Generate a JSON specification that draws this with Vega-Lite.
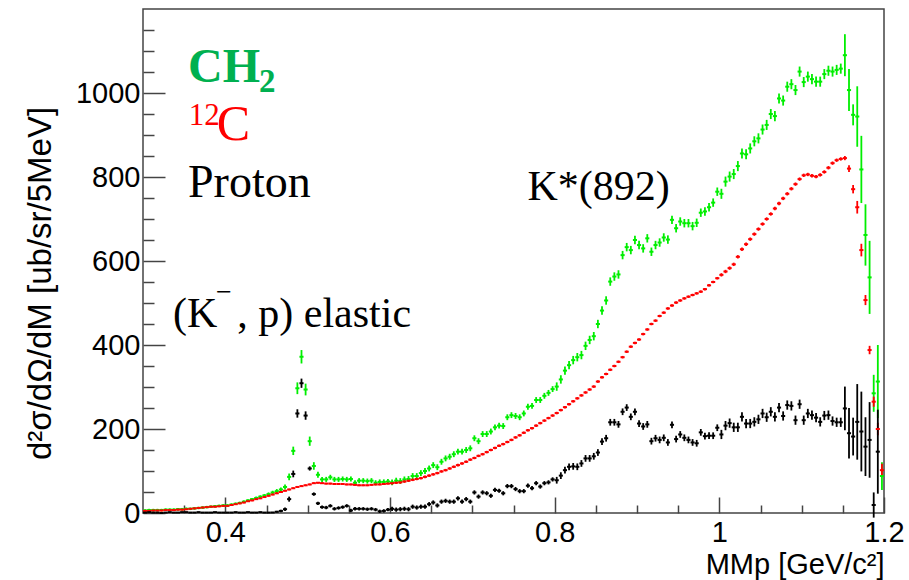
{
"$schema": "https://vega.github.io/schema/vega-lite/v6.json",
"width": 741, "height": 504,
"autosize": {"type": "none"},
"padding": {"left": 143, "top": 9, "right": 25, "bottom": 67},
"background": "white",
"config": {"view": {"stroke": "#444", "strokeWidth": 1.5}, "font": "Liberation Sans"},
"datasets": {"pts": [
{"s":"CH2","x":0.3025,"y":6,"e":3},{"s":"CH2","x":0.3075,"y":7,"e":3},{"s":"CH2","x":0.3125,"y":7,"e":3},{"s":"CH2","x":0.3175,"y":7,"e":3},{"s":"CH2","x":0.3225,"y":7,"e":3},{"s":"CH2","x":0.3275,"y":8,"e":3},{"s":"CH2","x":0.3325,"y":8,"e":3},{"s":"CH2","x":0.3375,"y":8,"e":3},{"s":"CH2","x":0.3425,"y":9,"e":3},{"s":"CH2","x":0.3475,"y":9,"e":3},
{"s":"CH2","x":0.3525,"y":10,"e":3},{"s":"CH2","x":0.3575,"y":10,"e":3},{"s":"CH2","x":0.3625,"y":11,"e":3},{"s":"CH2","x":0.3675,"y":12,"e":3},{"s":"CH2","x":0.3725,"y":13,"e":3},{"s":"CH2","x":0.3775,"y":14,"e":3},{"s":"CH2","x":0.3825,"y":15,"e":3},{"s":"CH2","x":0.3875,"y":16,"e":3},{"s":"CH2","x":0.3925,"y":17,"e":3},{"s":"CH2","x":0.3975,"y":18,"e":3},
{"s":"CH2","x":0.4025,"y":18,"e":3},{"s":"CH2","x":0.4075,"y":20,"e":3},{"s":"CH2","x":0.4125,"y":22,"e":3},{"s":"CH2","x":0.4175,"y":24,"e":3},{"s":"CH2","x":0.4225,"y":27,"e":3},{"s":"CH2","x":0.4275,"y":30,"e":3},{"s":"CH2","x":0.4325,"y":33,"e":3},{"s":"CH2","x":0.4375,"y":36,"e":3},{"s":"CH2","x":0.4425,"y":39,"e":3},{"s":"CH2","x":0.4475,"y":42,"e":3},
{"s":"CH2","x":0.4525,"y":45,"e":4},{"s":"CH2","x":0.4575,"y":49,"e":4},{"s":"CH2","x":0.4625,"y":52,"e":5},{"s":"CH2","x":0.4675,"y":56,"e":5},{"s":"CH2","x":0.4725,"y":62,"e":6},{"s":"CH2","x":0.4775,"y":86,"e":8},{"s":"CH2","x":0.4825,"y":148,"e":10},{"s":"CH2","x":0.4875,"y":297,"e":14},{"s":"CH2","x":0.4925,"y":372,"e":16},{"s":"CH2","x":0.4975,"y":294,"e":14},
{"s":"CH2","x":0.5025,"y":171,"e":11},{"s":"CH2","x":0.5075,"y":112,"e":9},{"s":"CH2","x":0.5125,"y":91,"e":7},{"s":"CH2","x":0.5175,"y":80,"e":6},{"s":"CH2","x":0.5225,"y":80,"e":6},{"s":"CH2","x":0.5275,"y":85,"e":6},{"s":"CH2","x":0.5325,"y":80,"e":6},{"s":"CH2","x":0.5375,"y":80,"e":6},{"s":"CH2","x":0.5425,"y":81,"e":6},{"s":"CH2","x":0.5475,"y":80,"e":6},
{"s":"CH2","x":0.5525,"y":81,"e":6},{"s":"CH2","x":0.5575,"y":72,"e":6},{"s":"CH2","x":0.5625,"y":77,"e":6},{"s":"CH2","x":0.5675,"y":77,"e":6},{"s":"CH2","x":0.5725,"y":76,"e":6},{"s":"CH2","x":0.5775,"y":77,"e":6},{"s":"CH2","x":0.5825,"y":72,"e":6},{"s":"CH2","x":0.5875,"y":74,"e":6},{"s":"CH2","x":0.5925,"y":74,"e":6},{"s":"CH2","x":0.5975,"y":75,"e":6},
{"s":"CH2","x":0.6025,"y":73,"e":7},{"s":"CH2","x":0.6075,"y":77,"e":7},{"s":"CH2","x":0.6125,"y":76,"e":7},{"s":"CH2","x":0.6175,"y":80,"e":7},{"s":"CH2","x":0.6225,"y":81,"e":7},{"s":"CH2","x":0.6275,"y":88,"e":7},{"s":"CH2","x":0.6325,"y":88,"e":7},{"s":"CH2","x":0.6375,"y":95,"e":7},{"s":"CH2","x":0.6425,"y":100,"e":7},{"s":"CH2","x":0.6475,"y":106,"e":7},
{"s":"CH2","x":0.6525,"y":114,"e":7},{"s":"CH2","x":0.6575,"y":109,"e":7},{"s":"CH2","x":0.6625,"y":122,"e":7},{"s":"CH2","x":0.6675,"y":130,"e":7},{"s":"CH2","x":0.6725,"y":134,"e":7},{"s":"CH2","x":0.6775,"y":140,"e":7},{"s":"CH2","x":0.6825,"y":146,"e":7},{"s":"CH2","x":0.6875,"y":146,"e":7},{"s":"CH2","x":0.6925,"y":150,"e":7},{"s":"CH2","x":0.6975,"y":154,"e":7},
{"s":"CH2","x":0.7025,"y":178,"e":7},{"s":"CH2","x":0.7075,"y":171,"e":7},{"s":"CH2","x":0.7125,"y":188,"e":7},{"s":"CH2","x":0.7175,"y":188,"e":7},{"s":"CH2","x":0.7225,"y":194,"e":7},{"s":"CH2","x":0.7275,"y":204,"e":7},{"s":"CH2","x":0.7325,"y":208,"e":7},{"s":"CH2","x":0.7375,"y":207,"e":7},{"s":"CH2","x":0.7425,"y":228,"e":7},{"s":"CH2","x":0.7475,"y":233,"e":7},
{"s":"CH2","x":0.7525,"y":231,"e":7},{"s":"CH2","x":0.7575,"y":228,"e":7},{"s":"CH2","x":0.7625,"y":237,"e":7},{"s":"CH2","x":0.7675,"y":253,"e":7},{"s":"CH2","x":0.7725,"y":255,"e":7},{"s":"CH2","x":0.7775,"y":269,"e":7},{"s":"CH2","x":0.7825,"y":269,"e":7},{"s":"CH2","x":0.7875,"y":279,"e":7},{"s":"CH2","x":0.7925,"y":286,"e":7},{"s":"CH2","x":0.7975,"y":295,"e":7},
{"s":"CH2","x":0.8025,"y":301,"e":10},{"s":"CH2","x":0.8075,"y":318,"e":10},{"s":"CH2","x":0.8125,"y":339,"e":10},{"s":"CH2","x":0.8175,"y":352,"e":10},{"s":"CH2","x":0.8225,"y":364,"e":10},{"s":"CH2","x":0.8275,"y":371,"e":10},{"s":"CH2","x":0.8325,"y":376,"e":10},{"s":"CH2","x":0.8375,"y":398,"e":10},{"s":"CH2","x":0.8425,"y":412,"e":10},{"s":"CH2","x":0.8475,"y":421,"e":10},
{"s":"CH2","x":0.8525,"y":450,"e":10},{"s":"CH2","x":0.8575,"y":482,"e":10},{"s":"CH2","x":0.8625,"y":506,"e":10},{"s":"CH2","x":0.8675,"y":551,"e":10},{"s":"CH2","x":0.8725,"y":563,"e":10},{"s":"CH2","x":0.8775,"y":568,"e":10},{"s":"CH2","x":0.8825,"y":614,"e":10},{"s":"CH2","x":0.8875,"y":633,"e":10},{"s":"CH2","x":0.8925,"y":626,"e":10},{"s":"CH2","x":0.8975,"y":650,"e":10},
{"s":"CH2","x":0.9025,"y":638,"e":10},{"s":"CH2","x":0.9075,"y":630,"e":10},{"s":"CH2","x":0.9125,"y":654,"e":10},{"s":"CH2","x":0.9175,"y":622,"e":10},{"s":"CH2","x":0.9225,"y":638,"e":10},{"s":"CH2","x":0.9275,"y":644,"e":10},{"s":"CH2","x":0.9325,"y":656,"e":10},{"s":"CH2","x":0.9375,"y":651,"e":10},{"s":"CH2","x":0.9425,"y":698,"e":10},{"s":"CH2","x":0.9475,"y":678,"e":10},
{"s":"CH2","x":0.9525,"y":694,"e":10},{"s":"CH2","x":0.9575,"y":690,"e":10},{"s":"CH2","x":0.9625,"y":690,"e":10},{"s":"CH2","x":0.9675,"y":683,"e":10},{"s":"CH2","x":0.9725,"y":691,"e":10},{"s":"CH2","x":0.9775,"y":715,"e":10},{"s":"CH2","x":0.9825,"y":718,"e":10},{"s":"CH2","x":0.9875,"y":728,"e":10},{"s":"CH2","x":0.9925,"y":739,"e":10},{"s":"CH2","x":0.9975,"y":765,"e":10},
{"s":"CH2","x":1.0025,"y":760,"e":12},{"s":"CH2","x":1.0075,"y":789,"e":12},{"s":"CH2","x":1.0125,"y":801,"e":12},{"s":"CH2","x":1.0175,"y":807,"e":12},{"s":"CH2","x":1.0225,"y":826,"e":12},{"s":"CH2","x":1.0275,"y":856,"e":12},{"s":"CH2","x":1.0325,"y":854,"e":12},{"s":"CH2","x":1.0375,"y":868,"e":12},{"s":"CH2","x":1.0425,"y":885,"e":12},{"s":"CH2","x":1.0475,"y":892,"e":12},
{"s":"CH2","x":1.0525,"y":913,"e":12},{"s":"CH2","x":1.0575,"y":924,"e":12},{"s":"CH2","x":1.0625,"y":950,"e":12},{"s":"CH2","x":1.0675,"y":945,"e":12},{"s":"CH2","x":1.0725,"y":987,"e":12},{"s":"CH2","x":1.0775,"y":982,"e":12},{"s":"CH2","x":1.0825,"y":1015,"e":12},{"s":"CH2","x":1.0875,"y":1021,"e":12},{"s":"CH2","x":1.0925,"y":1007,"e":12},{"s":"CH2","x":1.0975,"y":1051,"e":12},
{"s":"CH2","x":1.1025,"y":1026,"e":12},{"s":"CH2","x":1.1075,"y":1039,"e":12},{"s":"CH2","x":1.1125,"y":1033,"e":12},{"s":"CH2","x":1.1175,"y":1027,"e":12},{"s":"CH2","x":1.1225,"y":1027,"e":12},{"s":"CH2","x":1.1275,"y":1045,"e":12},{"s":"CH2","x":1.1325,"y":1053,"e":12},{"s":"CH2","x":1.1375,"y":1051,"e":12},{"s":"CH2","x":1.1425,"y":1055,"e":12},{"s":"CH2","x":1.1475,"y":1058,"e":12},
{"s":"CH2","x":1.1525,"y":1090,"e":50},{"s":"CH2","x":1.1575,"y":1007,"e":50},{"s":"CH2","x":1.1625,"y":948,"e":25},{"s":"CH2","x":1.1675,"y":944,"e":72},{"s":"CH2","x":1.1725,"y":818,"e":80},{"s":"CH2","x":1.1775,"y":662,"e":73},{"s":"CH2","x":1.1825,"y":561,"e":87},{"s":"CH2","x":1.1875,"y":285,"e":44},{"s":"CH2","x":1.1925,"y":313,"e":87},{"s":"CH2","x":1.1975,"y":88,"e":33},
{"s":"12C","x":0.3025,"y":5,"e":2},{"s":"12C","x":0.3075,"y":5,"e":2},{"s":"12C","x":0.3125,"y":6,"e":2},{"s":"12C","x":0.3175,"y":6,"e":2},{"s":"12C","x":0.3225,"y":6,"e":2},{"s":"12C","x":0.3275,"y":7,"e":2},{"s":"12C","x":0.3325,"y":7,"e":2},{"s":"12C","x":0.3375,"y":7,"e":2},{"s":"12C","x":0.3425,"y":8,"e":2},{"s":"12C","x":0.3475,"y":8,"e":2},
{"s":"12C","x":0.3525,"y":9,"e":2},{"s":"12C","x":0.3575,"y":10,"e":2},{"s":"12C","x":0.3625,"y":11,"e":2},{"s":"12C","x":0.3675,"y":12,"e":2},{"s":"12C","x":0.3725,"y":13,"e":2},{"s":"12C","x":0.3775,"y":14,"e":2},{"s":"12C","x":0.3825,"y":15,"e":2},{"s":"12C","x":0.3875,"y":15,"e":2},{"s":"12C","x":0.3925,"y":16,"e":2},{"s":"12C","x":0.3975,"y":17,"e":2},
{"s":"12C","x":0.4025,"y":17,"e":2},{"s":"12C","x":0.4075,"y":19,"e":2},{"s":"12C","x":0.4125,"y":21,"e":2},{"s":"12C","x":0.4175,"y":23,"e":2},{"s":"12C","x":0.4225,"y":25,"e":2},{"s":"12C","x":0.4275,"y":28,"e":2},{"s":"12C","x":0.4325,"y":30,"e":2},{"s":"12C","x":0.4375,"y":33,"e":2},{"s":"12C","x":0.4425,"y":35,"e":2},{"s":"12C","x":0.4475,"y":38,"e":2},
{"s":"12C","x":0.4525,"y":41,"e":2},{"s":"12C","x":0.4575,"y":44,"e":2},{"s":"12C","x":0.4625,"y":47,"e":2},{"s":"12C","x":0.4675,"y":50,"e":2},{"s":"12C","x":0.4725,"y":53,"e":2},{"s":"12C","x":0.4775,"y":56,"e":2},{"s":"12C","x":0.4825,"y":59,"e":2},{"s":"12C","x":0.4875,"y":62,"e":2},{"s":"12C","x":0.4925,"y":64,"e":2},{"s":"12C","x":0.4975,"y":66,"e":2},
{"s":"12C","x":0.5025,"y":68,"e":2},{"s":"12C","x":0.5075,"y":71,"e":2},{"s":"12C","x":0.5125,"y":72,"e":2},{"s":"12C","x":0.5175,"y":71,"e":2},{"s":"12C","x":0.5225,"y":70,"e":2},{"s":"12C","x":0.5275,"y":70,"e":2},{"s":"12C","x":0.5325,"y":69,"e":2},{"s":"12C","x":0.5375,"y":69,"e":2},{"s":"12C","x":0.5425,"y":69,"e":2},{"s":"12C","x":0.5475,"y":68,"e":2},
{"s":"12C","x":0.5525,"y":68,"e":2},{"s":"12C","x":0.5575,"y":67,"e":2},{"s":"12C","x":0.5625,"y":66,"e":2},{"s":"12C","x":0.5675,"y":66,"e":2},{"s":"12C","x":0.5725,"y":66,"e":2},{"s":"12C","x":0.5775,"y":67,"e":2},{"s":"12C","x":0.5825,"y":68,"e":2},{"s":"12C","x":0.5875,"y":68,"e":2},{"s":"12C","x":0.5925,"y":69,"e":2},{"s":"12C","x":0.5975,"y":70,"e":2},
{"s":"12C","x":0.6025,"y":71,"e":3},{"s":"12C","x":0.6075,"y":72,"e":3},{"s":"12C","x":0.6125,"y":73,"e":3},{"s":"12C","x":0.6175,"y":75,"e":3},{"s":"12C","x":0.6225,"y":77,"e":3},{"s":"12C","x":0.6275,"y":79,"e":3},{"s":"12C","x":0.6325,"y":81,"e":3},{"s":"12C","x":0.6375,"y":83,"e":3},{"s":"12C","x":0.6425,"y":86,"e":3},{"s":"12C","x":0.6475,"y":89,"e":3},
{"s":"12C","x":0.6525,"y":92,"e":3},{"s":"12C","x":0.6575,"y":95,"e":3},{"s":"12C","x":0.6625,"y":99,"e":3},{"s":"12C","x":0.6675,"y":102,"e":3},{"s":"12C","x":0.6725,"y":106,"e":3},{"s":"12C","x":0.6775,"y":110,"e":3},{"s":"12C","x":0.6825,"y":114,"e":3},{"s":"12C","x":0.6875,"y":118,"e":3},{"s":"12C","x":0.6925,"y":122,"e":3},{"s":"12C","x":0.6975,"y":127,"e":3},
{"s":"12C","x":0.7025,"y":131,"e":3},{"s":"12C","x":0.7075,"y":136,"e":3},{"s":"12C","x":0.7125,"y":140,"e":3},{"s":"12C","x":0.7175,"y":145,"e":3},{"s":"12C","x":0.7225,"y":150,"e":3},{"s":"12C","x":0.7275,"y":155,"e":3},{"s":"12C","x":0.7325,"y":160,"e":3},{"s":"12C","x":0.7375,"y":164,"e":3},{"s":"12C","x":0.7425,"y":169,"e":3},{"s":"12C","x":0.7475,"y":174,"e":3},
{"s":"12C","x":0.7525,"y":180,"e":3},{"s":"12C","x":0.7575,"y":185,"e":3},{"s":"12C","x":0.7625,"y":191,"e":3},{"s":"12C","x":0.7675,"y":197,"e":3},{"s":"12C","x":0.7725,"y":202,"e":3},{"s":"12C","x":0.7775,"y":208,"e":3},{"s":"12C","x":0.7825,"y":214,"e":3},{"s":"12C","x":0.7875,"y":220,"e":3},{"s":"12C","x":0.7925,"y":226,"e":3},{"s":"12C","x":0.7975,"y":232,"e":3},
{"s":"12C","x":0.8025,"y":238,"e":3},{"s":"12C","x":0.8075,"y":245,"e":3},{"s":"12C","x":0.8125,"y":252,"e":3},{"s":"12C","x":0.8175,"y":259,"e":3},{"s":"12C","x":0.8225,"y":266,"e":3},{"s":"12C","x":0.8275,"y":273,"e":3},{"s":"12C","x":0.8325,"y":280,"e":3},{"s":"12C","x":0.8375,"y":287,"e":3},{"s":"12C","x":0.8425,"y":294,"e":3},{"s":"12C","x":0.8475,"y":301,"e":3},
{"s":"12C","x":0.8525,"y":313,"e":3},{"s":"12C","x":0.8575,"y":323,"e":3},{"s":"12C","x":0.8625,"y":331,"e":3},{"s":"12C","x":0.8675,"y":341,"e":3},{"s":"12C","x":0.8725,"y":350,"e":3},{"s":"12C","x":0.8775,"y":360,"e":3},{"s":"12C","x":0.8825,"y":371,"e":3},{"s":"12C","x":0.8875,"y":384,"e":3},{"s":"12C","x":0.8925,"y":396,"e":3},{"s":"12C","x":0.8975,"y":405,"e":3},
{"s":"12C","x":0.9025,"y":413,"e":3},{"s":"12C","x":0.9075,"y":426,"e":3},{"s":"12C","x":0.9125,"y":437,"e":3},{"s":"12C","x":0.9175,"y":450,"e":3},{"s":"12C","x":0.9225,"y":458,"e":3},{"s":"12C","x":0.9275,"y":469,"e":3},{"s":"12C","x":0.9325,"y":477,"e":3},{"s":"12C","x":0.9375,"y":487,"e":3},{"s":"12C","x":0.9425,"y":494,"e":3},{"s":"12C","x":0.9475,"y":501,"e":3},
{"s":"12C","x":0.9525,"y":506,"e":3},{"s":"12C","x":0.9575,"y":511,"e":3},{"s":"12C","x":0.9625,"y":515,"e":3},{"s":"12C","x":0.9675,"y":519,"e":3},{"s":"12C","x":0.9725,"y":523,"e":3},{"s":"12C","x":0.9775,"y":527,"e":3},{"s":"12C","x":0.9825,"y":533,"e":3},{"s":"12C","x":0.9875,"y":542,"e":3},{"s":"12C","x":0.9925,"y":550,"e":3},{"s":"12C","x":0.9975,"y":559,"e":3},
{"s":"12C","x":1.0025,"y":567,"e":4},{"s":"12C","x":1.0075,"y":575,"e":4},{"s":"12C","x":1.0125,"y":583,"e":4},{"s":"12C","x":1.0175,"y":592,"e":4},{"s":"12C","x":1.0225,"y":610,"e":4},{"s":"12C","x":1.0275,"y":628,"e":4},{"s":"12C","x":1.0325,"y":640,"e":4},{"s":"12C","x":1.0375,"y":652,"e":4},{"s":"12C","x":1.0425,"y":664,"e":4},{"s":"12C","x":1.0475,"y":676,"e":4},
{"s":"12C","x":1.0525,"y":688,"e":4},{"s":"12C","x":1.0575,"y":700,"e":4},{"s":"12C","x":1.0625,"y":712,"e":4},{"s":"12C","x":1.0675,"y":725,"e":4},{"s":"12C","x":1.0725,"y":737,"e":4},{"s":"12C","x":1.0775,"y":749,"e":4},{"s":"12C","x":1.0825,"y":760,"e":4},{"s":"12C","x":1.0875,"y":772,"e":4},{"s":"12C","x":1.0925,"y":783,"e":4},{"s":"12C","x":1.0975,"y":795,"e":4},
{"s":"12C","x":1.1025,"y":804,"e":4},{"s":"12C","x":1.1075,"y":806,"e":4},{"s":"12C","x":1.1125,"y":803,"e":4},{"s":"12C","x":1.1175,"y":801,"e":4},{"s":"12C","x":1.1225,"y":805,"e":4},{"s":"12C","x":1.1275,"y":812,"e":4},{"s":"12C","x":1.1325,"y":822,"e":4},{"s":"12C","x":1.1375,"y":833,"e":4},{"s":"12C","x":1.1425,"y":840,"e":4},{"s":"12C","x":1.1475,"y":843,"e":4},
{"s":"12C","x":1.1525,"y":845,"e":5},{"s":"12C","x":1.1575,"y":820,"e":8},{"s":"12C","x":1.1625,"y":771,"e":10},{"s":"12C","x":1.1675,"y":728,"e":15},{"s":"12C","x":1.1725,"y":626,"e":15},{"s":"12C","x":1.1775,"y":507,"e":12},{"s":"12C","x":1.1825,"y":388,"e":10},{"s":"12C","x":1.1875,"y":265,"e":12},{"s":"12C","x":1.1925,"y":200,"e":15},{"s":"12C","x":1.1975,"y":102,"e":15},
{"s":"Proton","x":0.3025,"y":1,"e":1},{"s":"Proton","x":0.3075,"y":2,"e":1},{"s":"Proton","x":0.3125,"y":1,"e":1},{"s":"Proton","x":0.3175,"y":1,"e":1},{"s":"Proton","x":0.3225,"y":0,"e":1},{"s":"Proton","x":0.3275,"y":1,"e":1},{"s":"Proton","x":0.3325,"y":2,"e":1},{"s":"Proton","x":0.3375,"y":1,"e":1},{"s":"Proton","x":0.3425,"y":1,"e":1},{"s":"Proton","x":0.3475,"y":2,"e":1},
{"s":"Proton","x":0.3525,"y":2,"e":1},{"s":"Proton","x":0.3575,"y":1,"e":1},{"s":"Proton","x":0.3625,"y":1,"e":1},{"s":"Proton","x":0.3675,"y":2,"e":1},{"s":"Proton","x":0.3725,"y":1,"e":1},{"s":"Proton","x":0.3775,"y":1,"e":1},{"s":"Proton","x":0.3825,"y":1,"e":1},{"s":"Proton","x":0.3875,"y":2,"e":1},{"s":"Proton","x":0.3925,"y":1,"e":1},{"s":"Proton","x":0.3975,"y":1,"e":1},
{"s":"Proton","x":0.4025,"y":1,"e":1},{"s":"Proton","x":0.4075,"y":1,"e":1},{"s":"Proton","x":0.4125,"y":2,"e":1},{"s":"Proton","x":0.4175,"y":1,"e":1},{"s":"Proton","x":0.4225,"y":1,"e":1},{"s":"Proton","x":0.4275,"y":2,"e":1},{"s":"Proton","x":0.4325,"y":1,"e":1},{"s":"Proton","x":0.4375,"y":1,"e":1},{"s":"Proton","x":0.4425,"y":2,"e":1},{"s":"Proton","x":0.4475,"y":1,"e":1},
{"s":"Proton","x":0.4525,"y":1,"e":1},{"s":"Proton","x":0.4575,"y":1,"e":1},{"s":"Proton","x":0.4625,"y":3,"e":2},{"s":"Proton","x":0.4675,"y":5,"e":3},{"s":"Proton","x":0.4725,"y":9,"e":4},{"s":"Proton","x":0.4775,"y":33,"e":6},{"s":"Proton","x":0.4825,"y":93,"e":8},{"s":"Proton","x":0.4875,"y":237,"e":10},{"s":"Proton","x":0.4925,"y":309,"e":11},{"s":"Proton","x":0.4975,"y":232,"e":10},
{"s":"Proton","x":0.5025,"y":106,"e":5},{"s":"Proton","x":0.5075,"y":45,"e":4},{"s":"Proton","x":0.5125,"y":23,"e":4},{"s":"Proton","x":0.5175,"y":14,"e":4},{"s":"Proton","x":0.5225,"y":13,"e":4},{"s":"Proton","x":0.5275,"y":17,"e":4},{"s":"Proton","x":0.5325,"y":10,"e":4},{"s":"Proton","x":0.5375,"y":12,"e":4},{"s":"Proton","x":0.5425,"y":14,"e":4},{"s":"Proton","x":0.5475,"y":17,"e":4},
{"s":"Proton","x":0.5525,"y":6,"e":4},{"s":"Proton","x":0.5575,"y":10,"e":4},{"s":"Proton","x":0.5625,"y":10,"e":4},{"s":"Proton","x":0.5675,"y":10,"e":4},{"s":"Proton","x":0.5725,"y":9,"e":4},{"s":"Proton","x":0.5775,"y":10,"e":4},{"s":"Proton","x":0.5825,"y":8,"e":4},{"s":"Proton","x":0.5875,"y":4,"e":4},{"s":"Proton","x":0.5925,"y":5,"e":4},{"s":"Proton","x":0.5975,"y":8,"e":4},
{"s":"Proton","x":0.6025,"y":10,"e":5},{"s":"Proton","x":0.6075,"y":8,"e":5},{"s":"Proton","x":0.6125,"y":9,"e":5},{"s":"Proton","x":0.6175,"y":10,"e":5},{"s":"Proton","x":0.6225,"y":9,"e":5},{"s":"Proton","x":0.6275,"y":15,"e":5},{"s":"Proton","x":0.6325,"y":13,"e":5},{"s":"Proton","x":0.6375,"y":15,"e":5},{"s":"Proton","x":0.6425,"y":15,"e":5},{"s":"Proton","x":0.6475,"y":21,"e":5},
{"s":"Proton","x":0.6525,"y":25,"e":5},{"s":"Proton","x":0.6575,"y":18,"e":5},{"s":"Proton","x":0.6625,"y":27,"e":5},{"s":"Proton","x":0.6675,"y":29,"e":5},{"s":"Proton","x":0.6725,"y":27,"e":5},{"s":"Proton","x":0.6775,"y":27,"e":5},{"s":"Proton","x":0.6825,"y":35,"e":5},{"s":"Proton","x":0.6875,"y":27,"e":5},{"s":"Proton","x":0.6925,"y":33,"e":5},{"s":"Proton","x":0.6975,"y":27,"e":5},
{"s":"Proton","x":0.7025,"y":49,"e":5},{"s":"Proton","x":0.7075,"y":39,"e":5},{"s":"Proton","x":0.7125,"y":49,"e":5},{"s":"Proton","x":0.7175,"y":47,"e":5},{"s":"Proton","x":0.7225,"y":41,"e":5},{"s":"Proton","x":0.7275,"y":55,"e":5},{"s":"Proton","x":0.7325,"y":53,"e":5},{"s":"Proton","x":0.7375,"y":47,"e":5},{"s":"Proton","x":0.7425,"y":64,"e":5},{"s":"Proton","x":0.7475,"y":64,"e":5},
{"s":"Proton","x":0.7525,"y":57,"e":5},{"s":"Proton","x":0.7575,"y":52,"e":5},{"s":"Proton","x":0.7625,"y":52,"e":5},{"s":"Proton","x":0.7675,"y":65,"e":5},{"s":"Proton","x":0.7725,"y":59,"e":5},{"s":"Proton","x":0.7775,"y":71,"e":5},{"s":"Proton","x":0.7825,"y":63,"e":5},{"s":"Proton","x":0.7875,"y":71,"e":5},{"s":"Proton","x":0.7925,"y":73,"e":5},{"s":"Proton","x":0.7975,"y":80,"e":5},
{"s":"Proton","x":0.8025,"y":78,"e":8},{"s":"Proton","x":0.8075,"y":89,"e":8},{"s":"Proton","x":0.8125,"y":102,"e":8},{"s":"Proton","x":0.8175,"y":110,"e":8},{"s":"Proton","x":0.8225,"y":111,"e":8},{"s":"Proton","x":0.8275,"y":110,"e":8},{"s":"Proton","x":0.8325,"y":118,"e":8},{"s":"Proton","x":0.8375,"y":130,"e":8},{"s":"Proton","x":0.8425,"y":130,"e":8},{"s":"Proton","x":0.8475,"y":135,"e":8},
{"s":"Proton","x":0.8525,"y":144,"e":8},{"s":"Proton","x":0.8575,"y":170,"e":8},{"s":"Proton","x":0.8625,"y":178,"e":8},{"s":"Proton","x":0.8675,"y":216,"e":8},{"s":"Proton","x":0.8725,"y":216,"e":8},{"s":"Proton","x":0.8775,"y":211,"e":8},{"s":"Proton","x":0.8825,"y":241,"e":8},{"s":"Proton","x":0.8875,"y":251,"e":8},{"s":"Proton","x":0.8925,"y":229,"e":8},{"s":"Proton","x":0.8975,"y":241,"e":8},
{"s":"Proton","x":0.9025,"y":213,"e":8},{"s":"Proton","x":0.9075,"y":206,"e":8},{"s":"Proton","x":0.9125,"y":211,"e":8},{"s":"Proton","x":0.9175,"y":171,"e":8},{"s":"Proton","x":0.9225,"y":178,"e":8},{"s":"Proton","x":0.9275,"y":174,"e":8},{"s":"Proton","x":0.9325,"y":179,"e":8},{"s":"Proton","x":0.9375,"y":168,"e":8},{"s":"Proton","x":0.9425,"y":210,"e":8},{"s":"Proton","x":0.9475,"y":176,"e":8},
{"s":"Proton","x":0.9525,"y":187,"e":8},{"s":"Proton","x":0.9575,"y":179,"e":8},{"s":"Proton","x":0.9625,"y":174,"e":8},{"s":"Proton","x":0.9675,"y":168,"e":8},{"s":"Proton","x":0.9725,"y":166,"e":8},{"s":"Proton","x":0.9775,"y":192,"e":8},{"s":"Proton","x":0.9825,"y":183,"e":8},{"s":"Proton","x":0.9875,"y":184,"e":8},{"s":"Proton","x":0.9925,"y":184,"e":8},{"s":"Proton","x":0.9975,"y":203,"e":8},
{"s":"Proton","x":1.0025,"y":187,"e":11},{"s":"Proton","x":1.0075,"y":208,"e":11},{"s":"Proton","x":1.0125,"y":214,"e":11},{"s":"Proton","x":1.0175,"y":204,"e":11},{"s":"Proton","x":1.0225,"y":204,"e":11},{"s":"Proton","x":1.0275,"y":229,"e":11},{"s":"Proton","x":1.0325,"y":213,"e":11},{"s":"Proton","x":1.0375,"y":213,"e":11},{"s":"Proton","x":1.0425,"y":217,"e":11},{"s":"Proton","x":1.0475,"y":223,"e":11},
{"s":"Proton","x":1.0525,"y":237,"e":11},{"s":"Proton","x":1.0575,"y":228,"e":11},{"s":"Proton","x":1.0625,"y":241,"e":11},{"s":"Proton","x":1.0675,"y":229,"e":11},{"s":"Proton","x":1.0725,"y":251,"e":11},{"s":"Proton","x":1.0775,"y":231,"e":11},{"s":"Proton","x":1.0825,"y":257,"e":11},{"s":"Proton","x":1.0875,"y":255,"e":11},{"s":"Proton","x":1.0925,"y":221,"e":11},{"s":"Proton","x":1.0975,"y":259,"e":11},
{"s":"Proton","x":1.1025,"y":221,"e":11},{"s":"Proton","x":1.1075,"y":237,"e":11},{"s":"Proton","x":1.1125,"y":233,"e":11},{"s":"Proton","x":1.1175,"y":227,"e":11},{"s":"Proton","x":1.1225,"y":217,"e":11},{"s":"Proton","x":1.1275,"y":232,"e":11},{"s":"Proton","x":1.1325,"y":233,"e":11},{"s":"Proton","x":1.1375,"y":219,"e":11},{"s":"Proton","x":1.1425,"y":216,"e":11},{"s":"Proton","x":1.1475,"y":216,"e":11},
{"s":"Proton","x":1.1525,"y":249,"e":52},{"s":"Proton","x":1.1575,"y":190,"e":60},{"s":"Proton","x":1.1625,"y":182,"e":45},{"s":"Proton","x":1.1675,"y":217,"e":90},{"s":"Proton","x":1.1725,"y":194,"e":95},{"s":"Proton","x":1.1775,"y":158,"e":70},{"s":"Proton","x":1.1825,"y":174,"e":90},{"s":"Proton","x":1.1875,"y":19,"e":30},{"s":"Proton","x":1.1925,"y":146,"e":100}
]},
"layer": [
{
"data": {"name": "pts"},
"layer": [
{"mark": {"type": "errorbar", "thickness": 1.8},
 "encoding": {
  "x": {"field": "x", "type": "quantitative", "scale": {"domain": [0.3, 1.2], "nice": false, "zero": false},
   "axis": {"orient": "bottom", "values": [0.4, 0.6, 0.8, 1, 1.2], "format": "~g", "domain": false, "grid": false, "tickSize": -16, "tickWidth": 1.5, "tickColor": "#444", "labelFont": "Liberation Sans", "labelFontSize": 29, "labelColor": "#000", "labelPadding": 21, "labelFlush": false, "labelOverlap": false,
   "title": "MMp [GeV/c²]", "titleFont": "Liberation Sans", "titleFontSize": 29, "titleFontWeight": "normal", "titleColor": "#000", "titleX": 741, "titleY": 60.5, "titleAlign": "right", "titleBaseline": "alphabetic", "titleAnchor": "end"}},
  "y": {"field": "y", "type": "quantitative", "scale": {"domain": [0, 1200], "nice": false},
   "axis": {"orient": "left", "values": [0, 200, 400, 600, 800, 1000], "format": "d", "domain": false, "grid": false, "tickSize": -22, "tickWidth": 1.5, "tickColor": "#444", "labelFont": "Liberation Sans", "labelFontSize": 29, "labelColor": "#000", "labelPadding": 25, "labelFlush": false, "labelOverlap": false,
   "title": "d²σ/dΩ/dM [ub/sr/5MeV]", "titleFont": "Liberation Sans", "titleFontSize": 33, "titleFontWeight": "normal", "titleColor": "#000", "titleX": -93, "titleY": 274, "titleAngle": -90, "titleAlign": "center", "titleBaseline": "alphabetic"}},
  "yError": {"field": "e"},
  "color": {"field": "s", "type": "nominal", "scale": {"domain": ["CH2", "12C", "Proton"], "range": ["#00ee00", "#ff0000", "#000000"]}, "legend": null}
 }},
{"mark": {"type": "tick", "orient": "horizontal", "size": 4.1, "thickness": 2, "opacity": 1},
 "encoding": {
  "x": {"field": "x", "type": "quantitative"},
  "y": {"field": "y", "type": "quantitative"},
  "color": {"field": "s", "type": "nominal", "legend": null}
 }},
{"data": {"values": [{}]}, "mark": {"type": "text", "text": "CH", "font": "Liberation Serif", "fontSize": 48, "fontWeight": "bold", "color": "#00b050", "align": "left", "baseline": "alphabetic"},
 "encoding": {"x": {"datum": 0.3547}, "y": {"datum": 1026}}},
{"data": {"values": [{}]}, "mark": {"type": "text", "text": "2", "font": "Liberation Serif", "fontSize": 33, "fontWeight": "bold", "color": "#00b050", "align": "left", "baseline": "alphabetic"},
 "encoding": {"x": {"datum": 0.4410}, "y": {"datum": 1002}}},
{"data": {"values": [{}]}, "mark": {"type": "text", "text": "12", "font": "Liberation Serif", "fontSize": 31, "color": "#ff0000", "align": "left", "baseline": "alphabetic"},
 "encoding": {"x": {"datum": 0.3555}, "y": {"datum": 924}}},
{"data": {"values": [{}]}, "mark": {"type": "text", "text": "C", "font": "Liberation Serif", "fontSize": 50, "color": "#ff0000", "align": "left", "baseline": "alphabetic"},
 "encoding": {"x": {"datum": 0.3895}, "y": {"datum": 888}}},
{"data": {"values": [{}]}, "mark": {"type": "text", "text": "Proton", "font": "Liberation Serif", "fontSize": 46, "color": "#000000", "align": "left", "baseline": "alphabetic"},
 "encoding": {"x": {"datum": 0.3547}, "y": {"datum": 752}}},
{"data": {"values": [{}]}, "mark": {"type": "text", "text": "K*(892)", "font": "Liberation Serif", "fontSize": 42, "color": "#000000", "align": "left", "baseline": "alphabetic"},
 "encoding": {"x": {"datum": 0.7669}, "y": {"datum": 745}}},
{"data": {"values": [{}]}, "mark": {"type": "text", "text": "(K", "font": "Liberation Serif", "fontSize": 42, "color": "#000000", "align": "left", "baseline": "alphabetic"},
 "encoding": {"x": {"datum": 0.3364}, "y": {"datum": 443}}},
{"data": {"values": [{}]}, "mark": {"type": "text", "text": "−", "font": "Liberation Serif", "fontSize": 28, "color": "#000000", "align": "left", "baseline": "alphabetic"},
 "encoding": {"x": {"datum": 0.3888}, "y": {"datum": 505}}},
{"data": {"values": [{}]}, "mark": {"type": "text", "text": ", p) elastic", "font": "Liberation Serif", "fontSize": 42, "color": "#000000", "align": "left", "baseline": "alphabetic"},
 "encoding": {"x": {"datum": 0.4145}, "y": {"datum": 443}}}
]
},
{
"data": {"name": "pts"},
"mark": {"type": "point", "opacity": 0},
"encoding": {
 "x": {"field": "x", "type": "quantitative", "axis": {"orient": "bottom", "values": [0.35, 0.45, 0.5, 0.55, 0.65, 0.7, 0.75, 0.85, 0.9, 0.95, 1.05, 1.1, 1.15], "labels": false, "domain": false, "grid": false, "tickSize": -8, "tickWidth": 1.5, "tickColor": "#444", "title": null}},
 "y": {"field": "y", "type": "quantitative", "axis": {"orient": "left", "values": [50, 100, 150, 250, 300, 350, 450, 500, 550, 650, 700, 750, 850, 900, 950, 1050, 1100, 1150], "labels": false, "domain": false, "grid": false, "tickSize": -11, "tickWidth": 1.5, "tickColor": "#444", "title": null}}
}
}
],
"resolve": {"axis": {"x": "independent", "y": "independent"}}
}
